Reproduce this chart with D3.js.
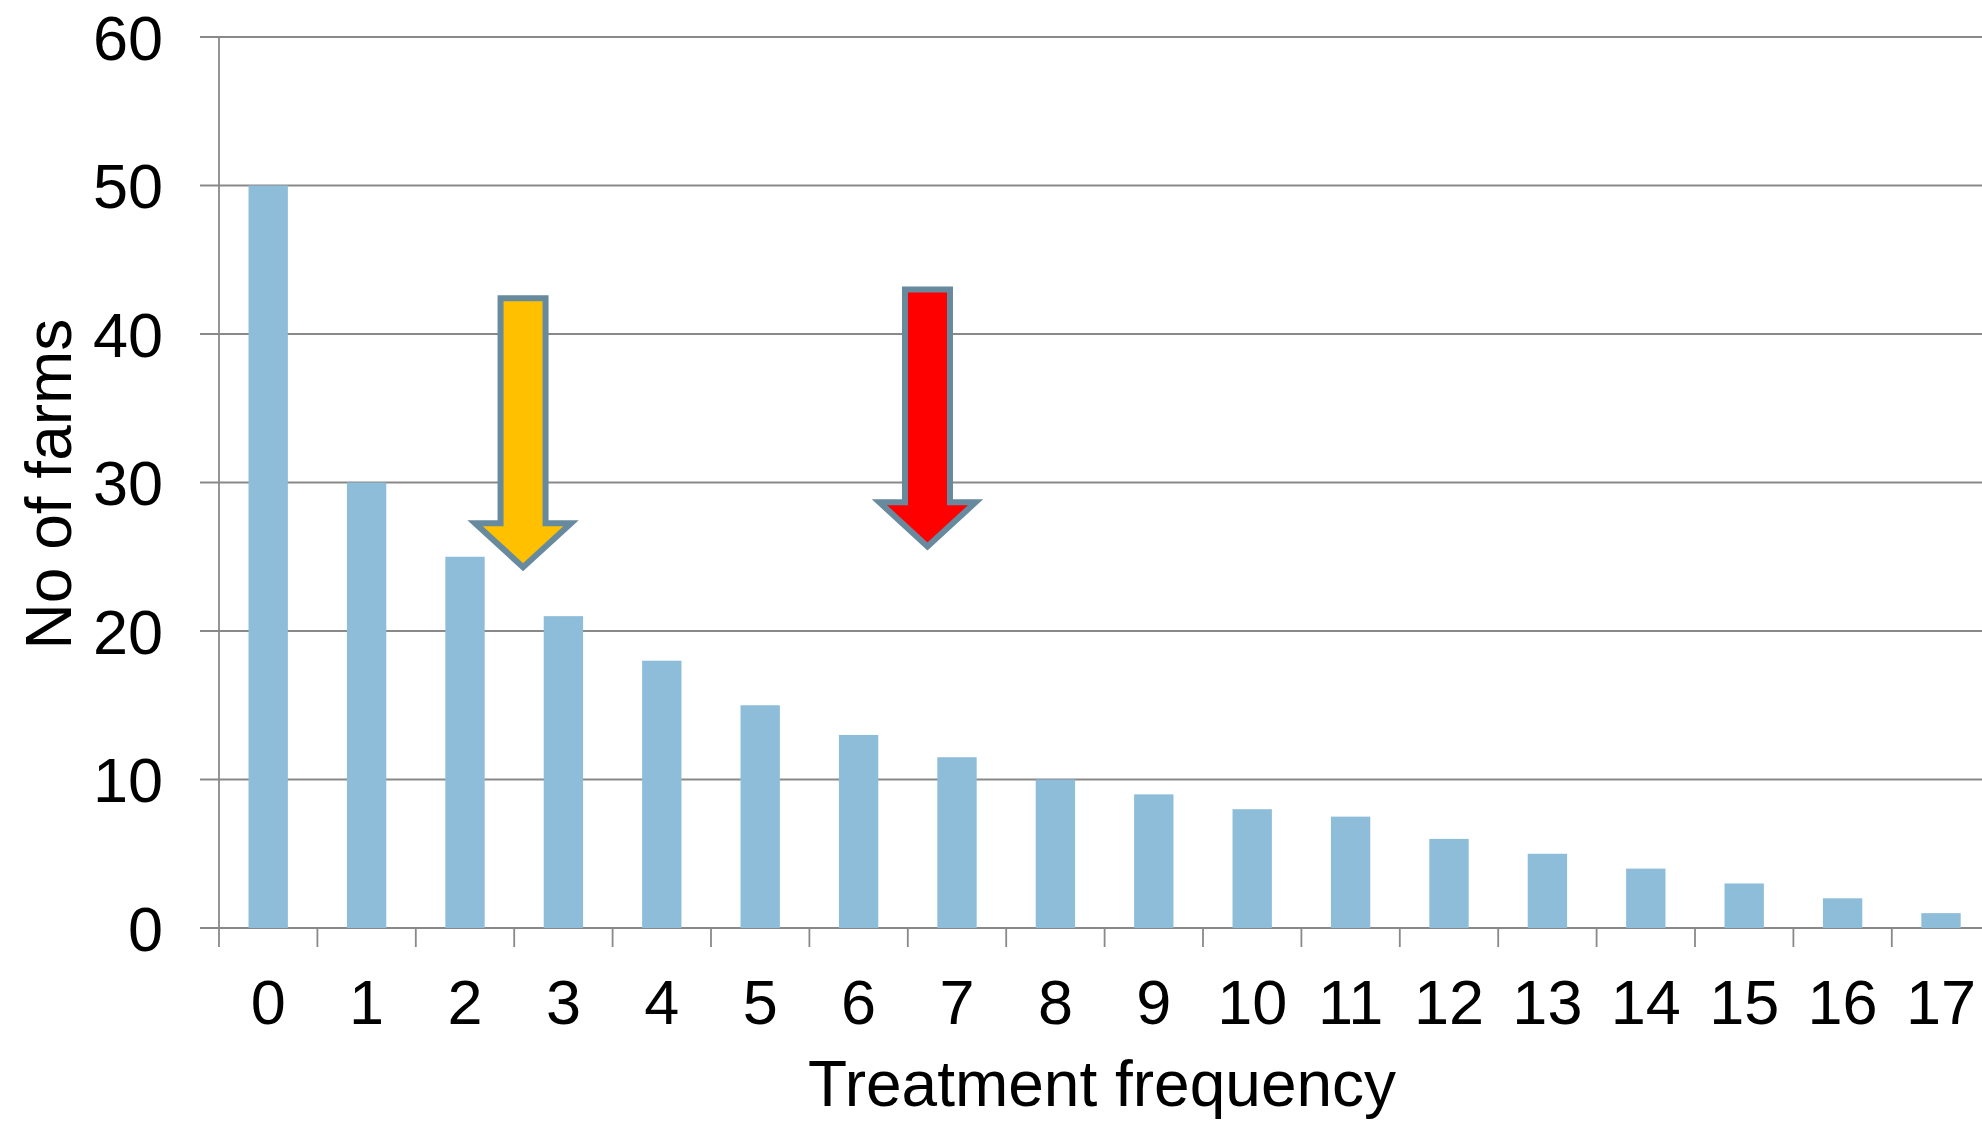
<!DOCTYPE html>
<html>
<head>
<meta charset="utf-8">
<script src="https://cdn.jsdelivr.net/npm/d3@7"></script>
<style>
  html, body { margin: 0; padding: 0; background: #ffffff; }
  svg { display: block; font-family: "Liberation Sans", Arial, sans-serif; }
</style>
</head>
<body>
<svg id="chart" width="1982" height="1121"></svg>
<script>
// ---- data ----
const categories = ["0","1","2","3","4","5","6","7","8","9","10","11","12","13","14","15","16","17"];
const farms = [50, 30, 25, 21, 18, 15, 13, 11.5, 10, 9, 8, 7.5, 6, 5, 4, 3, 2, 1];
const yTicks = [0, 10, 20, 30, 40, 50, 60];
const xTitle = "Treatment frequency";
const yTitle = "No of farms";
// annotation arrows (x in category units from the axis, y in farm counts)
const arrowX = [3.09, 7.2];
const arrowTop = [42.4, 43.0];
const arrowTip = [24.3, 25.7];
const arrowFill = ["#FFC000", "#FF0000"];

// ---- layout ----
const W = 1982, H = 1121;
const x0 = 219, step = 98.4;
const yBottom = 928, yTop = 37;

const svg = d3.select("#chart");

const x = d3.scaleBand()
  .domain(categories)
  .range([x0, x0 + step * categories.length])
  .paddingInner(0.6)
  .paddingOuter(0.3);
const xLin = d3.scaleLinear().domain([0, categories.length]).range(x.range());
const y = d3.scaleLinear().domain([0, 60]).range([yBottom, yTop]);

const gridColor = "#898989";

// gridlines + left ticks
svg.append("g").selectAll("line").data(yTicks).join("line")
  .attr("x1", x0 - 19).attr("x2", W)
  .attr("y1", d => y(d)).attr("y2", d => y(d))
  .attr("stroke", gridColor).attr("stroke-width", 1.8);

// y axis line
svg.append("line")
  .attr("x1", x0).attr("x2", x0)
  .attr("y1", y(60)).attr("y2", yBottom + 19)
  .attr("stroke", gridColor).attr("stroke-width", 1.8);

// x ticks at category boundaries
svg.append("g").selectAll("line").data(d3.range(1, categories.length + 1)).join("line")
  .attr("x1", d => xLin(d)).attr("x2", d => xLin(d))
  .attr("y1", yBottom).attr("y2", yBottom + 19)
  .attr("stroke", gridColor).attr("stroke-width", 1.8);

// bars
svg.append("g").selectAll("rect").data(farms).join("rect")
  .attr("x", (d, i) => x(categories[i]))
  .attr("width", x.bandwidth())
  .attr("y", d => y(d))
  .attr("height", d => yBottom - y(d))
  .attr("fill", "#8EBDDA");

// y tick labels
svg.append("g").selectAll("text").data(yTicks).join("text")
  .attr("x", 163).attr("y", d => y(d)).attr("dy", "0.36em")
  .attr("text-anchor", "end")
  .attr("font-size", 63).attr("fill", "#000")
  .text(d => d);

// x tick labels
svg.append("g").selectAll("text").data(categories).join("text")
  .attr("x", d => x(d) + x.bandwidth() / 2).attr("y", 1024)
  .attr("text-anchor", "middle")
  .attr("font-size", 63).attr("fill", "#000")
  .text(d => d);

// axis titles
svg.append("text")
  .attr("x", 1102).attr("y", 1106)
  .attr("text-anchor", "middle").attr("font-size", 64).attr("fill", "#000")
  .text(xTitle);
svg.append("text")
  .attr("transform", "translate(71,484) rotate(-90)")
  .attr("text-anchor", "middle").attr("font-size", 64).attr("fill", "#000")
  .text(yTitle);

// arrows
const shaftHalf = 22.5, headHalf = 48, headLen = 44;
svg.append("g").selectAll("path").data(arrowX).join("path")
  .attr("d", (d, i) => {
    const cx = xLin(d), t = y(arrowTop[i]), tip = y(arrowTip[i]), hb = tip - headLen;
    return `M${cx - shaftHalf},${t} L${cx + shaftHalf},${t} L${cx + shaftHalf},${hb} L${cx + headHalf},${hb} L${cx},${tip} L${cx - headHalf},${hb} L${cx - shaftHalf},${hb} Z`;
  })
  .attr("fill", (d, i) => arrowFill[i])
  .attr("stroke", "#688A9E").attr("stroke-width", 6)
  .attr("stroke-linejoin", "miter");
</script>
</body>
</html>
